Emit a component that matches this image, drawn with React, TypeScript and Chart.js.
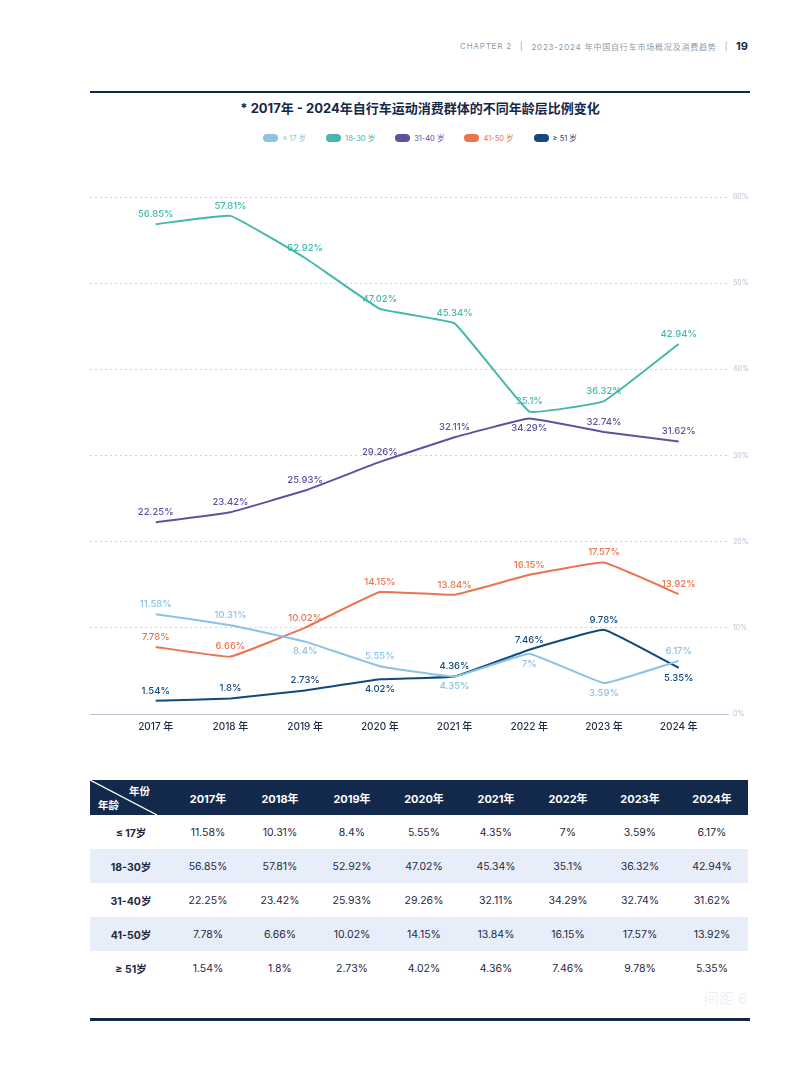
import React, { useEffect, useRef } from "react";
import { Chart, registerables } from "chart.js";

Chart.register(...registerables);

// ---------- data ----------
const yearLabels = ["2017 年", "2018 年", "2019 年", "2020 年", "2021 年", "2022 年", "2023 年", "2024 年"];
const tableYears = ["2017年", "2018年", "2019年", "2020年", "2021年", "2022年", "2023年", "2024年"];
const seriesNames = ["≤ 17 岁", "18-30 岁", "31-40 岁", "41-50 岁", "≥ 51 岁"];
const rowNames = ["≤ 17岁", "18-30岁", "31-40岁", "41-50岁", "≥ 51岁"];

const under17 = [11.58, 10.31, 8.4, 5.55, 4.35, 7, 3.59, 6.17];
const age18to30 = [56.85, 57.81, 52.92, 47.02, 45.34, 35.1, 36.32, 42.94];
const age31to40 = [22.25, 23.42, 25.93, 29.26, 32.11, 34.29, 32.74, 31.62];
const age41to50 = [7.78, 6.66, 10.02, 14.15, 13.84, 16.15, 17.57, 13.92];
const over51 = [1.54, 1.8, 2.73, 4.02, 4.36, 7.46, 9.78, 5.35];

const yTickValues = [0, 10, 20, 30, 40, 50, 60];

// label placement: 1 above the point, -1 below
const under17Place = [1, 1, -1, 1, -1, -1, -1, 1];
const age18to30Place = [1, 1, 1, 1, 1, 1, 1, 1];
const age31to40Place = [1, 1, 1, 1, 1, -1, 1, 1];
const age41to50Place = [1, 1, 1, 1, 1, 1, 1, 1];
const over51Place = [1, 1, 1, -1, 1, 1, 1, -1];

const seriesValues = [under17, age18to30, age31to40, age41to50, over51];
const seriesPlaces = [under17Place, age18to30Place, age31to40Place, age41to50Place, over51Place];
const seriesColors = ["#8cc2e2", "#45b8ab", "#5a549f", "#ea7450", "#0e4a7e"];

const FONT = "Inter, 'Noto Sans CJK SC', 'Noto Sans', sans-serif";
const NAVY = "#12294b";

const pointLabelPlugin = {
  id: "pointLabels",
  afterDatasetsDraw(chart: any) {
    const ctx = chart.ctx;
    chart.data.datasets.forEach((ds: any, di: number) => {
      const meta = chart.getDatasetMeta(di);
      meta.data.forEach((pt: any, i: number) => {
        const v = ds.data[i].y;
        const place = seriesPlaces[di][i];
        ctx.save();
        ctx.font = `500 9.5px ${FONT}`;
        ctx.fillStyle = seriesColors[di];
        ctx.textAlign = "center";
        ctx.textBaseline = "middle";
        ctx.fillText(`${v}%`, pt.x, pt.y + (place > 0 ? -10 : 10));
        ctx.restore();
      });
    });
  },
};

function LineChart() {
  const ref = useRef<HTMLCanvasElement | null>(null);
  useEffect(() => {
    if (!ref.current) return;
    const chart = new Chart(ref.current, {
      type: "line",
      data: {
        datasets: seriesValues.map((vals, di) => ({
          label: seriesNames[di],
          data: vals.map((v, i) => ({ x: i, y: v })),
          borderColor: seriesColors[di],
          backgroundColor: seriesColors[di],
          borderWidth: 2,
          pointRadius: 0,
          tension: 0.08,
          fill: false,
        })),
      },
      options: {
        responsive: false,
        animation: false,
        layout: { padding: { left: 90, top: 37, right: 0, bottom: 0 } },
        plugins: { legend: { display: false }, tooltip: { enabled: false } },
        scales: {
          x: {
            type: "linear",
            min: -0.88,
            max: 7.66,
            afterBuildTicks: (axis: any) => {
              axis.ticks = yearLabels.map((_, i) => ({ value: i }));
            },
            afterFit: (axis: any) => {
              axis.height = 36;
            },
            grid: { display: false, drawTicks: false },
            border: { display: true, color: "#b9c1d5", width: 1 },
            ticks: {
              callback: (v: any) => yearLabels[v] ?? "",
              color: "#1e2b45",
              font: { family: FONT, size: 10, weight: 500 },
              padding: 7,
              maxRotation: 0,
              autoSkip: false,
            },
          },
          y: {
            position: "right",
            min: 0,
            max: 60,
            afterBuildTicks: (axis: any) => {
              axis.ticks = yTickValues.map((v) => ({ value: v }));
            },
            afterFit: (axis: any) => {
              axis.width = 65;
            },
            grid: {
              drawTicks: false,
              color: (c: any) => (c.tick && c.tick.value === 0 ? "rgba(0,0,0,0)" : "#c5d0ee"),
              lineWidth: 1,
            },
            border: { display: false, dash: [2, 3] },
            ticks: {
              callback: (v: any) => `${v}%`,
              color: "#b7bfd6",
              font: { family: FONT, size: 7 },
              padding: 5,
            },
          },
        },
      },
      plugins: [pointLabelPlugin],
    } as any);
    return () => chart.destroy();
  }, []);
  return <canvas ref={ref} width={793} height={590} style={{ position: "absolute", left: 0, top: 160, width: 793, height: 590 }} />;
}

function Table() {
  const colW = 72;
  const firstW = 82;
  const rowH = 34;
  const headH = 35;
  const allRows = seriesValues;
  return (
    <div style={{ position: "absolute", left: 90, top: 780, width: 658, fontFamily: FONT }}>
      <div style={{ display: "flex", height: headH, background: NAVY, color: "#fff", fontWeight: 700, fontSize: 11, position: "relative" }}>
        <div style={{ width: firstW, position: "relative" }}>
          <svg width={firstW} height={headH} style={{ position: "absolute", left: 0, top: 0 }}>
            <line x1={0} y1={0} x2={67} y2={headH} stroke="#ffffff" strokeWidth={1.3} />
          </svg>
          <span style={{ position: "absolute", left: 39, top: 3, fontSize: 10.5 }}>年份</span>
          <span style={{ position: "absolute", left: 8, top: 17, fontSize: 10.5 }}>年龄</span>
        </div>
        {tableYears.map((y) => (
          <div key={y} style={{ width: colW, display: "flex", alignItems: "center", justifyContent: "center" }}>
            {y}
          </div>
        ))}
      </div>
      {allRows.map((vals, ri) => (
        <div
          key={ri}
          style={{
            display: "flex",
            height: rowH,
            background: ri % 2 === 1 ? "#e8eef9" : "#ffffff",
            color: "#1f2a44",
            fontSize: 10.5,
          }}
        >
          <div style={{ width: firstW, display: "flex", alignItems: "center", justifyContent: "center", fontWeight: 700 }}>
            {rowNames[ri]}
          </div>
          {vals.map((v, i) => (
            <div key={i} style={{ width: colW, display: "flex", alignItems: "center", justifyContent: "center" }}>
              {`${v}%`}
            </div>
          ))}
        </div>
      ))}
    </div>
  );
}

export default function App() {
  return (
    <div style={{ position: "absolute", left: 0, top: 0, width: 793, height: 1077, background: "#fff", fontFamily: FONT, overflow: "hidden" }}>
      <div
        style={{
          position: "absolute",
          right: 45,
          top: 39,
          display: "flex",
          alignItems: "center",
          color: "#8e97ab",
          fontSize: 8,
          letterSpacing: 0.8,
          whiteSpace: "nowrap",
        }}
      >
        <span>CHAPTER 2</span>
        <span style={{ margin: "0 8px" }}>|</span>
        <span>2023-2024 年中国自行车市场概况及消费趋势</span>
        <span style={{ margin: "0 8px" }}>|</span>
        <span style={{ color: NAVY, fontWeight: 700, fontSize: 11, letterSpacing: 0 }}>19</span>
      </div>
      <div style={{ position: "absolute", left: 90, top: 91, width: 660, height: 2, background: NAVY }} />
      <div
        style={{
          position: "absolute",
          left: 90,
          top: 98,
          width: 660,
          textAlign: "center",
          fontWeight: 700,
          fontSize: 13,
          color: "#14284a",
        }}
      >
        * 2017年 - 2024年自行车运动消费群体的不同年龄层比例变化
      </div>
      <div
        style={{
          position: "absolute",
          left: 90,
          top: 132,
          width: 660,
          display: "flex",
          justifyContent: "center",
          gap: 20,
          fontSize: 7.5,
        }}
      >
        {seriesNames.map((n, i) => (
          <div key={n} style={{ display: "flex", alignItems: "center", color: seriesColors[i] }}>
            <span style={{ display: "inline-block", width: 15, height: 8, borderRadius: 4, background: seriesColors[i], marginRight: 4 }} />
            <span>{n}</span>
          </div>
        ))}
      </div>
      <LineChart />
      <Table />
      <div style={{ position: "absolute", left: 704, top: 987, fontSize: 15, color: "#eef0f5" }}>间距 6</div>
      <div style={{ position: "absolute", left: 90, top: 1018, width: 660, height: 2.5, background: NAVY }} />
    </div>
  );
}
